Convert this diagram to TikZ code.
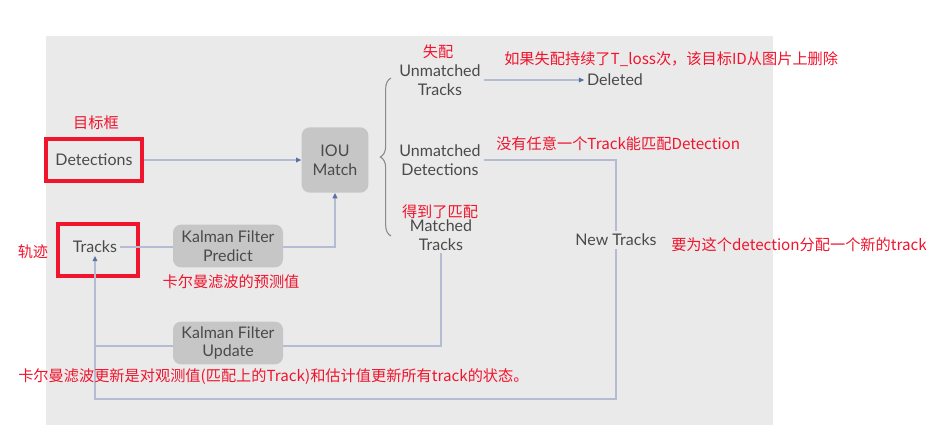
\documentclass[tikz,border=0pt]{standalone}
\usepackage{fontspec}
\setmainfont{Lato}
\newfontfamily\cjk{Noto Sans CJK SC}
\usetikzlibrary{arrows.meta,decorations.pathreplacing}
\definecolor{bgc}{HTML}{EAEAEA}
\definecolor{boxc}{HTML}{C6C6C6}
\definecolor{linec}{HTML}{B3BCD2}
\definecolor{tipc}{HTML}{5A6FA6}
\definecolor{txtc}{HTML}{4A4A4A}
\definecolor{redc}{HTML}{F0142D}
\definecolor{bracec}{HTML}{8A8A8A}
\tikzset{
  lbl/.style={text=txtc, font=\fontsize{12}{14}\selectfont, align=center, inner sep=2pt},
  note/.style={text=redc, font=\cjk\fontsize{11.4}{13}\selectfont, inner sep=0pt},
  redframe/.style={draw=redc, line width=3pt, inner sep=0pt},
  greybox/.style={fill=boxc, rounded corners=6pt, inner sep=0pt, text=txtc, align=center, font=\fontsize{12}{14}\selectfont},
  conn/.style={draw=linec, line width=1pt},
  tip/.style={-{Triangle[length=4pt,width=3.5pt,color=tipc]}},
}
\begin{document}
\begin{tikzpicture}[x=0.75pt,y=-0.75pt]
\useasboundingbox (0,0) rectangle (928,436);
\fill[bgc] (46,36) rectangle (773,425);

% main nodes
\node[lbl, redframe, minimum width=72pt, minimum height=32pt] (det) at (94,160) {Detections};
\node[redframe, minimum width=59.5pt, minimum height=38.5pt] (trkbox) at (98,250) {};
\node[lbl] (trk) at (95,247) {Tracks};
\node[greybox, minimum width=50pt, minimum height=49pt] (iou) at (335,160) {IOU\\Match};

\node[lbl] (ut) at (440,80) {Unmatched\\Tracks};
\node[lbl] (ud) at (440,160) {Unmatched\\Detections};
\node[lbl] (mt) at (441,235) {Matched\\Tracks};
\node[lbl] (del) at (615,80) {Deleted};
\node[lbl] (nt) at (616,240) {New Tracks};

\coordinate (c1) at (616,399);
\coordinate (c2) at (95,399);
\coordinate (c3) at (95,346);

% connectors
\draw[conn, tip] (det.east) -- (iou.west);
\draw[conn, tip] (trk.east) -| (iou.south);
\draw[conn, tip] (ut.east) -- (del.west);
\draw[conn] (ud.east) -| (nt.north);
\draw[conn, tip] (nt.south) -- (c1) -- (c2) -- (trk.south);
\draw[conn] (mt.south) |- (c3);

% brace
\draw[draw=bracec, line width=0.8pt, decorate, decoration={brace, amplitude=8pt}]
  (391,236) -- (391,78);

% Kalman boxes (on top of lines)
\node[greybox, minimum width=82.5pt, minimum height=32pt] (kfp) at (228,246) {Kalman Filter\\Predict};
\node[greybox, minimum width=82.5pt, minimum height=32pt] (kfu) at (228,343) {Kalman Filter\\Update};

% red notes
\node[note] (n1) at (96,123) {目标框};
\node[note] (n2) at (33,252) {轨迹};
\node[note] (n3) at (438,52) {失配};
\node[note] (n4) at (440,212) {得到了匹配};
\node[note] (n5) at (231,282) {卡尔曼滤波的预测值};
\node[note, anchor=west] (n6) at (504,59) {如果失配持续了T\_loss次，该目标ID从图片上删除};
\node[note, anchor=west] (n7) at (496,144) {没有任意一个Track能匹配Detection};
\node[note, anchor=west] (n8) at (671,245) {要为这个detection分配一个新的track};
\node[note, anchor=west] (n9) at (18,377) {卡尔曼滤波更新是对观测值(匹配上的Track)和估计值更新所有track的状态。};
\end{tikzpicture}
\end{document}
